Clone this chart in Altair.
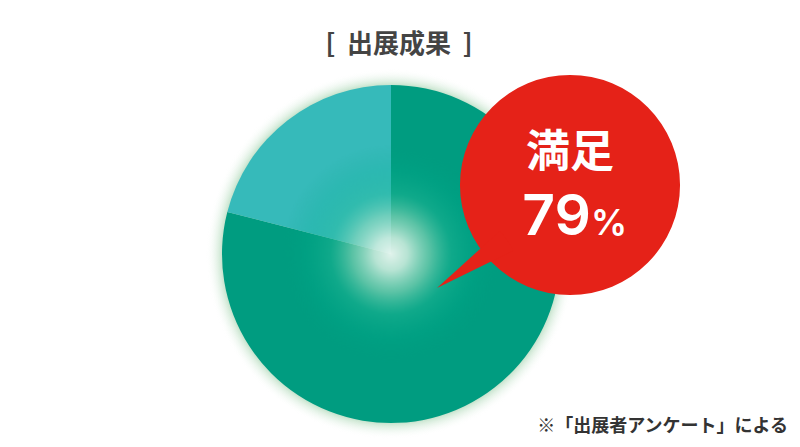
import math
import altair as alt
import pandas as pd

# ---- data ----
categories = ["満足", "その他"]
shares = [79, 21]
slice_order = [0, 1]
title_text = "[\u00a0\u00a0出展成果\u00a0\u00a0]"
bubble_label = "満足"
bubble_value = "79"
bubble_unit = "%"
note_text = "※「出展者アンケート」による"

# ---- layout ----
W, H = 784, 431
OFF = 8


def px(v):
    return v - OFF


CX, CY, R = px(391), px(254), 169
BX, BY, BR = px(570), px(185), 110
TX, TY = px(437), px(288)

pie_df = pd.DataFrame({"category": categories, "share": shares, "order": slice_order})
one = alt.Data(values=[{"k": 1}])
TWO_PI = 2 * math.pi


def radial(stops):
    return alt.Gradient(
        gradient="radial", x1=0.5, y1=0.5, x2=0.5, y2=0.5, r1=0, r2=0.5,
        stops=[alt.GradientStop(offset=o, color=c) for o, c in stops],
    )


glow_r = R + 16
edge = R / glow_r
glow = alt.Chart(one).mark_arc(
    x=CX, y=CY, theta=0, theta2=TWO_PI, radius=glow_r,
    fill=radial([
        (0, "rgba(120,185,140,0.7)"),
        (edge - 0.02, "rgba(120,185,140,0.65)"),
        (edge + 0.015, "rgba(160,210,170,0.4)"),
        (1, "rgba(255,255,255,0)"),
    ]),
).encode(opacity=alt.value(1))

pie = alt.Chart(pie_df).mark_arc(radius=R).encode(
    theta=alt.Theta("share:Q", stack=True),
    color=alt.Color("category:N",
                    scale=alt.Scale(domain=categories, range=["#009c80", "#36baba"]),
                    legend=None),
    order=alt.Order("order:Q"),
    x=alt.value(CX), y=alt.value(CY),
)

highlight = alt.Chart(one).mark_arc(
    x=CX, y=CY, theta=0, theta2=TWO_PI, radius=110,
    fill=radial([
        (0, "rgba(236,247,241,0.95)"),
        (0.15, "rgba(215,240,226,0.85)"),
        (0.35, "rgba(150,220,190,0.6)"),
        (0.55, "rgba(40,190,155,0.38)"),
        (0.78, "rgba(0,176,142,0.18)"),
        (1, "rgba(0,160,128,0)"),
    ]),
).encode(opacity=alt.value(1))

bubble_color = "#e52218"
bubble = alt.Chart(one).mark_arc(
    x=BX, y=BY, theta=0, theta2=TWO_PI, radius=BR, fill=bubble_color,
).encode(opacity=alt.value(1))

tail = alt.Chart(one).mark_arc(
    x=TX, y=TY, theta=math.radians(47.8), theta2=math.radians(63.9), radius=85,
    fill=bubble_color,
).encode(opacity=alt.value(1))

FONT = "Noto Sans CJK JP"

title = alt.Chart(one).mark_text(
    text=title_text, font=FONT, fontWeight="bold", fontSize=26, color="#444444",
    align="center", baseline="middle",
).encode(x=alt.value(px(399)), y=alt.value(px(45)))

label = alt.Chart(one).mark_text(
    text=bubble_label, font=FONT, fontWeight="bold", fontSize=44, color="white",
    align="center", baseline="middle",
).encode(x=alt.value(px(570)), y=alt.value(px(154)))

value = alt.Chart(one).mark_text(
    text=bubble_value, font="Inter", fontWeight=600, fontSize=57, color="white",
    align="right", baseline="alphabetic",
).encode(x=alt.value(px(591)), y=alt.value(px(235)))

unit = alt.Chart(one).mark_text(
    text=bubble_unit, font="Inter", fontWeight=600, fontSize=36, color="white",
    align="left", baseline="alphabetic",
).encode(x=alt.value(px(591)), y=alt.value(px(235)))

note = alt.Chart(one).mark_text(
    text=note_text, font=FONT, fontWeight="bold", fontSize=18, color="#333333",
    align="right", baseline="middle",
).encode(x=alt.value(px(788)), y=alt.value(px(427)))

chart = alt.layer(glow, pie, highlight, bubble, tail, title, label, value, unit, note).properties(
    width=W, height=H, padding=0, autosize=alt.AutoSizeParams(type="none"),
    background="white",
).configure_view(stroke=None)

chart.save("out.html", embed_options={"renderer": "svg", "actions": False})
